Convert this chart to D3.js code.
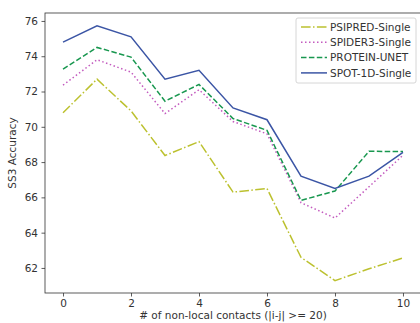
<!DOCTYPE html>
<html>
<head>
<meta charset="utf-8">
<script src="https://cdn.jsdelivr.net/npm/d3@7"></script>
<style>
  body { margin: 0; background: #fff; }
  svg { display: block; font-family: "DejaVu Sans", sans-serif; }
</style>
</head>
<body>
<svg id="chart" width="420" height="323"></svg>
<script>
// data
var contacts = [0, 1, 2, 3, 4, 5, 6, 7, 8, 9, 10];
var xTicks = [0, 2, 4, 6, 8, 10];
var yTicks = [62, 64, 66, 68, 70, 72, 74, 76];
var psipred = [70.8, 72.7, 70.9, 68.37, 69.16, 66.3, 66.5, 62.6, 61.28, 61.95, 62.57];
var spider3 = [72.36, 73.8, 73.1, 70.75, 72.1, 70.3, 69.6, 65.7, 64.83, 66.6, 68.39];
var unet = [73.27, 74.5, 73.95, 71.45, 72.4, 70.47, 69.8, 65.83, 66.36, 68.61, 68.6];
var spot1d = [74.8, 75.73, 75.1, 72.7, 73.2, 71.07, 70.4, 67.2, 66.5, 67.2, 68.55];

var series = [
  { name: "PSIPRED-Single", values: psipred, color: "#bcc12f", dash: "9.6,2.4,1.5,2.4" },
  { name: "SPIDER3-Single", values: spider3, color: "#c35bbf", dash: "1.5,2.5" },
  { name: "PROTEIN-UNET", values: unet, color: "#18974f", dash: "5.5,2.4" },
  { name: "SPOT-1D-Single", values: spot1d, color: "#3b55a5", dash: null }
];

var svg = d3.select("#chart");
// plot area edges (don't use "top" - clashes with window.top)
var pLeft = 45, pRight = 421, pTop = 13, pBottom = 293;
var fs = "10.5px";

var x = d3.scaleLinear().domain([-0.53, 10.53]).range([pLeft, pRight]);
var y = d3.scaleLinear().domain([60.58, 76.45]).range([pBottom, pTop]);

// axes
var xAxis = svg.append("g")
  .attr("transform", "translate(0," + pBottom + ")")
  .call(d3.axisBottom(x).tickValues(xTicks).tickSize(3.5).tickPadding(3.5));
var yAxis = svg.append("g")
  .attr("transform", "translate(" + pLeft + ",0)")
  .call(d3.axisLeft(y).tickValues(yTicks).tickSize(3.5).tickPadding(3.5));

[xAxis, yAxis].forEach(function(g) {
  g.select(".domain").remove();
  g.selectAll("line").attr("stroke", "#333").attr("stroke-width", 0.8);
  g.selectAll("text").attr("fill", "#333").style("font-size", fs)
    .style("font-family", "DejaVu Sans, sans-serif");
});

// frame
svg.append("rect")
  .attr("x", pLeft).attr("y", pTop)
  .attr("width", pRight - pLeft).attr("height", pBottom - pTop)
  .attr("fill", "none").attr("stroke", "#333").attr("stroke-width", 0.8);

// lines
var line = d3.line()
  .x(function(d, i) { return x(contacts[i]); })
  .y(function(d) { return y(d); });

series.forEach(function(s) {
  svg.append("path")
    .datum(s.values)
    .attr("d", line)
    .attr("fill", "none")
    .attr("stroke", s.color)
    .attr("stroke-width", 1.5)
    .attr("stroke-dasharray", s.dash);
});

// axis labels
svg.append("text")
  .attr("x", (pLeft + pRight) / 2).attr("y", 319)
  .attr("text-anchor", "middle")
  .attr("fill", "#333").style("font-size", fs)
  .text("# of non-local contacts (|i-j| >= 20)");

svg.append("text")
  .attr("transform", "translate(16," + (pTop + pBottom) / 2 + ") rotate(-90)")
  .attr("text-anchor", "middle")
  .attr("fill", "#333").style("font-size", fs)
  .text("SS3 Accuracy");

// legend
var lg = svg.append("g").attr("transform", "translate(296,18)");
lg.append("rect")
  .attr("width", 120).attr("height", 65).attr("rx", 2)
  .attr("fill", "#fff").attr("fill-opacity", 0.8)
  .attr("stroke", "#ccc").attr("stroke-width", 0.8);

series.forEach(function(s, i) {
  var yy = 9 + i * 15.3;
  lg.append("line")
    .attr("x1", 5).attr("x2", 31).attr("y1", yy).attr("y2", yy)
    .attr("stroke", s.color).attr("stroke-width", 1.5)
    .attr("stroke-dasharray", s.dash);
  lg.append("text")
    .attr("x", 34).attr("y", yy + 3.7)
    .attr("fill", "#333").style("font-size", fs)
    .text(s.name);
});
</script>
</body>
</html>
